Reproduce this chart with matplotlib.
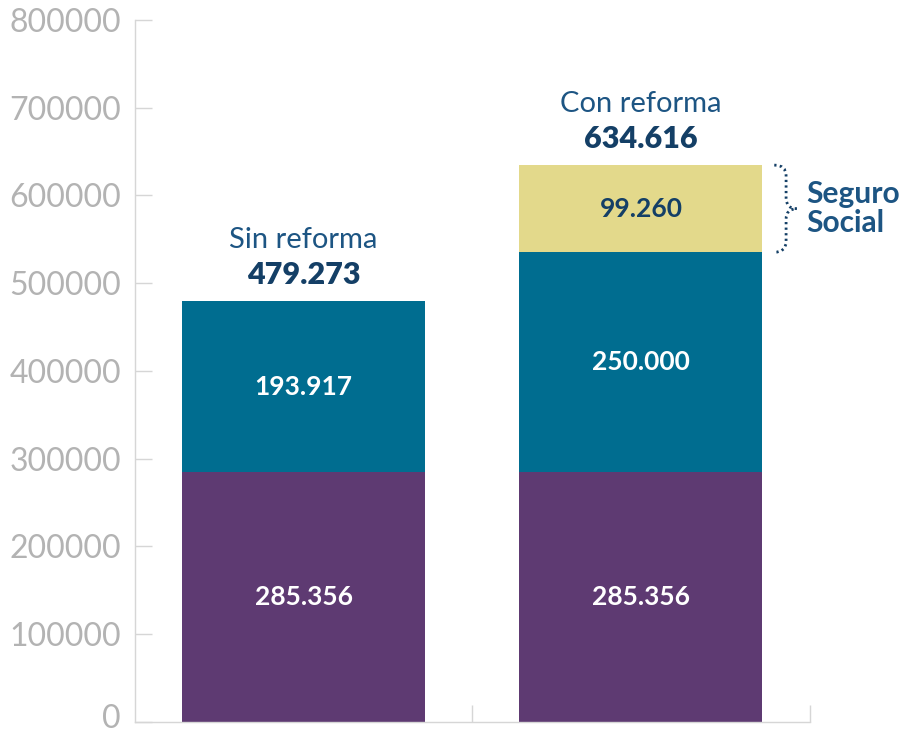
import matplotlib
matplotlib.use("Agg")
import matplotlib.pyplot as plt
import matplotlib.transforms as mtransforms
from matplotlib.path import Path
from matplotlib.patches import PathPatch

# data
categories = ["Sin reforma", "Con reforma"]
base = [285356, 285356]
middle = [193917, 250000]
seguro = [0, 99260]
totals = [479273, 634616]
yticks = [0, 100000, 200000, 300000, 400000, 500000, 600000, 700000, 800000]

PURPLE = "#5e3a72"
BLUE = "#006d90"
YELLOW = "#e3d98b"
NAVY = "#143f66"
LABEL = "#1d5583"
GRID = "#d6d6d6"

plt.rcParams["font.family"] = ["Lato", "DejaVu Sans"]

fig = plt.figure(figsize=(9.17, 7.38), dpi=100)
ax = fig.add_axes([0.147, 0.0217, 0.736, 0.9512])

x = range(len(categories))
w = 0.72
ax.bar(x, base, width=w, color=PURPLE)
ax.bar(x, middle, width=w, bottom=base, color=BLUE)
ax.bar(x, seguro, width=w, bottom=[b + m for b, m in zip(base, middle)], color=YELLOW)

def fmt(v):
    return f"{v:,}".replace(",", ".")

for i in x:
    ax.text(i, base[i] / 2, fmt(base[i]), ha="center", va="center",
            color="white", fontsize=19, fontweight="bold")
    ax.text(i, base[i] + middle[i] / 2, fmt(middle[i]), ha="center", va="center",
            color="white", fontsize=19, fontweight="bold")
    if seguro[i]:
        ax.text(i, base[i] + middle[i] + seguro[i] / 2, fmt(seguro[i]), ha="center",
                va="center", color=NAVY, fontsize=19, fontweight="bold")
    ax.text(i, totals[i] + 30000, fmt(totals[i]), ha="center", va="center",
            color=NAVY, fontsize=22, fontweight="heavy")
    ax.text(i, totals[i] + 70000, categories[i], ha="center", va="center",
            color=LABEL, fontsize=21)

# dotted curly brace next to the Seguro Social segment
lo = base[1] + middle[1]
hi = totals[1]
mid = (lo + hi) / 2
x0, x1, x2 = 1.395, 1.43, 1.462
d = 12000
verts = [(x0, hi), (x1, hi), (x1, hi - d),
         (x1, mid + d),
         (x1, mid), (x2, mid),
         (x1, mid), (x1, mid - d),
         (x1, lo + d),
         (x1, lo), (x0, lo)]
codes = [Path.MOVETO, Path.CURVE3, Path.CURVE3,
         Path.LINETO,
         Path.CURVE3, Path.CURVE3,
         Path.CURVE3, Path.CURVE3,
         Path.LINETO,
         Path.CURVE3, Path.CURVE3]
ax.add_patch(PathPatch(Path(verts, codes), fill=False, edgecolor=NAVY, lw=2,
                       linestyle=(0, (0.8, 1.2)), clip_on=False))
ax.text(1.49, mid, "Seguro\nSocial", ha="left", va="center", color=LABEL,
        fontsize=21.5, fontweight="bold", linespacing=1.05, clip_on=False)

ax.set_xlim(-0.5, 1.5)
ax.set_ylim(0, 800000)
ax.set_yticks(yticks)
ax.set_yticklabels([str(t) for t in yticks])
ax.tick_params(axis="y", direction="in", length=12, width=1, color=GRID,
               labelcolor="#b3b3b3", labelsize=23, pad=10)
ax.set_xticks([])
ax.set_xticks([0.5, 1.5], minor=True)
ax.tick_params(axis="x", which="minor", direction="in", length=12, width=1,
               color=GRID, labelbottom=False)

# nudge the "0" label up a few pixels so it stays inside the figure
zero_lbl = ax.get_yticklabels()[0]
zero_lbl.set_transform(zero_lbl.get_transform()
                       + mtransforms.ScaledTranslation(0, 4 / 72, fig.dpi_scale_trans))

for s in ["top", "right"]:
    ax.spines[s].set_visible(False)
for s in ["left", "bottom"]:
    ax.spines[s].set_color(GRID)
    ax.spines[s].set_linewidth(1)

fig.savefig("out.png", dpi=100)
